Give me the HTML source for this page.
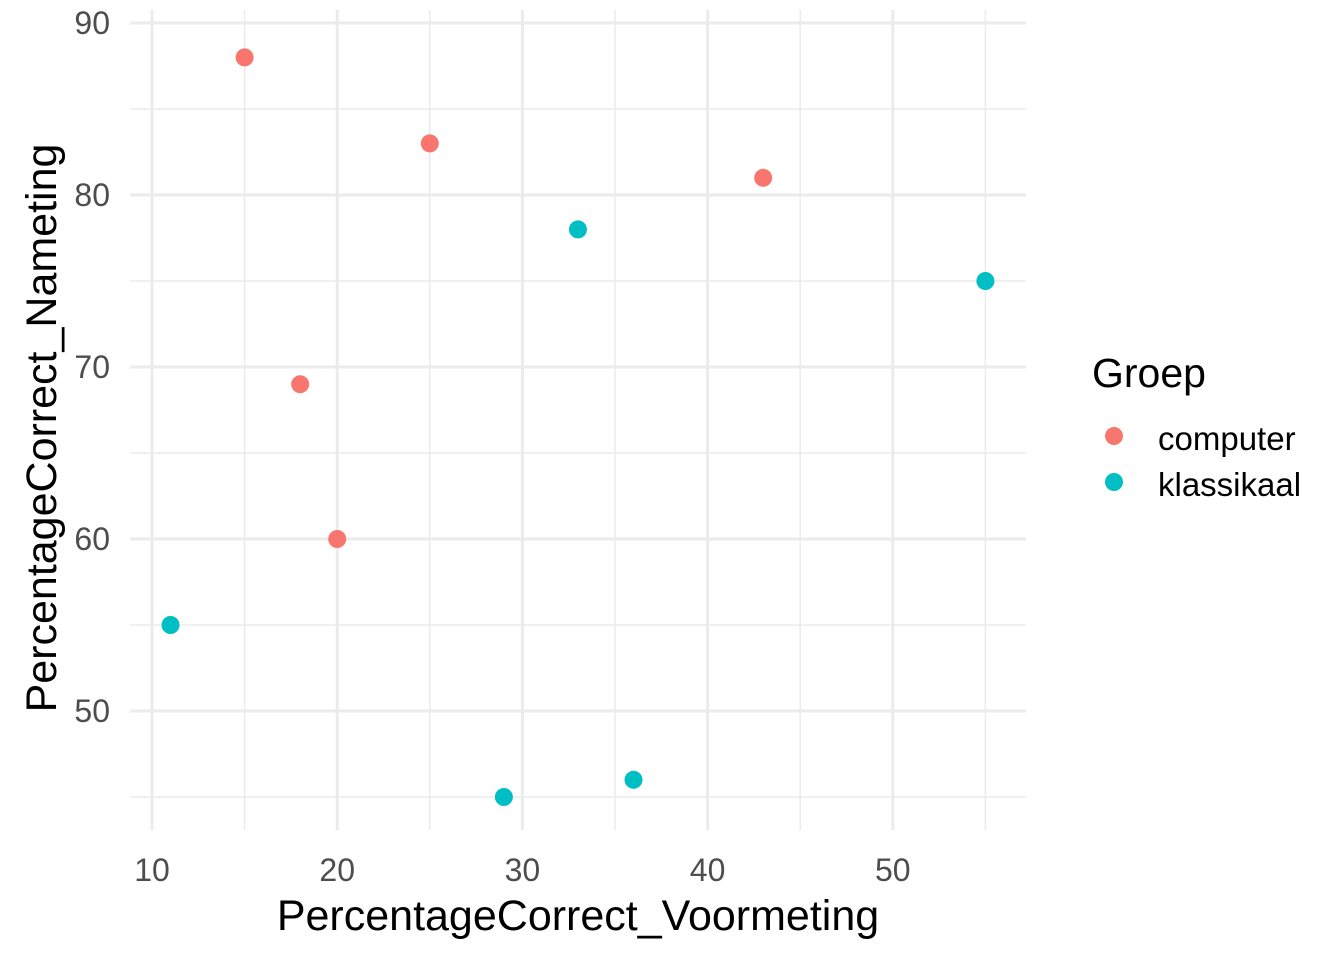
<!DOCTYPE html>
<html><head><meta charset="utf-8"><style>
body{margin:0;background:#fff;}
svg text{font-family:"Liberation Sans",Arial,sans-serif;}
</style></head><body>
<svg id="chart" width="1344" height="960" xmlns="http://www.w3.org/2000/svg">
<g id="grid"></g>
<g id="axes"></g>
<g id="points"></g>
<text x="578" y="930" font-size="43" text-anchor="middle" fill="#000">PercentageCorrect_Voormeting</text>
<text transform="translate(56,428) rotate(-90)" font-size="43" text-anchor="middle" fill="#000">PercentageCorrect_Nameting</text>
<g>
<text x="1092" y="387" font-size="41" fill="#000">Groep</text>
<g>
<circle cx="1114" cy="436" r="9" fill="#F8766D"></circle>
<text x="1158" y="450" font-size="33" fill="#000">computer</text></g>
<g>
<circle cx="1114" cy="482" r="9" fill="#00BFC4"></circle>
<text x="1158" y="496" font-size="33" fill="#000">klassikaal</text></g>
</g>
</svg>
<script>
const xTicks = [10, 20, 30, 40, 50];
const yTicks = [50, 60, 70, 80, 90];
const xMinor = [15, 25, 35, 45, 55];
const yMinor = [45, 55, 65, 75, 85];
const computerX = [15, 25, 43, 18, 20];
const computerY = [88, 83, 81, 69, 60];
const klassikaalX = [33, 55, 11, 29, 36];
const klassikaalY = [78, 75, 55, 45, 46];

const NS = "http://www.w3.org/2000/svg";
const L = 130, R = 1026, T = 10, B = 830;
function xs(v){ return 152 + (v - 10) * 18.52; }
function ys(v){ return 23 + (90 - v) * 17.2; }
const grid = document.getElementById('grid');
const axes = document.getElementById('axes');
const pts = document.getElementById('points');
function line(x1,y1,x2,y2,w){
  const l = document.createElementNS(NS,'line');
  l.setAttribute('x1',x1);l.setAttribute('y1',y1);l.setAttribute('x2',x2);l.setAttribute('y2',y2);
  l.setAttribute('stroke','#EBEBEB');l.setAttribute('stroke-width',w);
  
  
  grid.appendChild(l);
}
xMinor.forEach(v=>line(xs(v),T,xs(v),B,1.5));
yMinor.forEach(v=>line(L,ys(v),R,ys(v),1.5));
xTicks.forEach(v=>line(xs(v),T,xs(v),B,3));
yTicks.forEach(v=>line(L,ys(v),R,ys(v),3));
function label(x,y,t,anchor,name){
  const e = document.createElementNS(NS,'text');
  e.setAttribute('x',x);e.setAttribute('y',y);e.setAttribute('font-size','32');
  e.setAttribute('fill','#4D4D4D');e.setAttribute('text-anchor',anchor);
  e.textContent=t;
  
  
  axes.appendChild(e);
}
xTicks.forEach(v=>label(xs(v),881,String(v),'middle','x-tick-label'));
yTicks.forEach(v=>label(110,ys(v)+11,String(v),'end','y-tick-label'));
function dot(x,y,c,name){
  const e = document.createElementNS(NS,'circle');
  e.setAttribute('cx',xs(x));e.setAttribute('cy',ys(y));e.setAttribute('r',9);e.setAttribute('fill',c);
  
  
  pts.appendChild(e);
}
computerX.forEach((x,i)=>dot(x,computerY[i],'#F8766D','point-computer'));
klassikaalX.forEach((x,i)=>dot(x,klassikaalY[i],'#00BFC4','point-klassikaal'));
</script>
</body></html>
